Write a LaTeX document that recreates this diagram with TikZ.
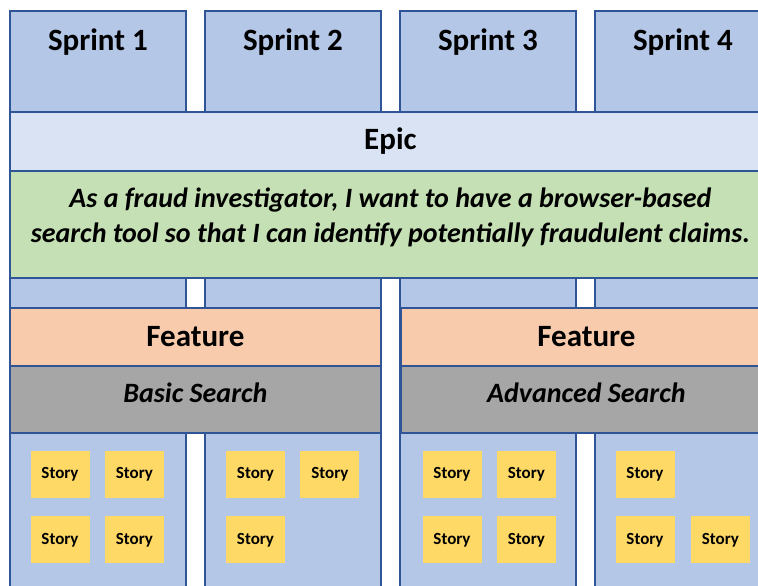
\documentclass[tikz,border=0pt]{standalone}
\usepackage{fontspec}
\setmainfont{Carlito}
\usetikzlibrary{positioning}

\definecolor{sprintblue}{HTML}{B4C7E7}
\definecolor{edgeblue}{HTML}{2F5597}
\definecolor{epicblue}{HTML}{DAE3F3}
\definecolor{storygreen}{HTML}{C5E0B4}
\definecolor{featorange}{HTML}{F8CBAD}
\definecolor{featgray}{HTML}{A6A6A6}
\definecolor{storyyellow}{HTML}{FFD966}

\begin{document}
\begin{tikzpicture}[
  x=1pt, y=-1pt,
  node distance=15pt and 15pt,
  lane/.style={rectangle, draw=edgeblue, line width=1.8pt, fill=sprintblue,
               anchor=north west, minimum width=176pt, minimum height=640pt,
               inner sep=0pt},
  band/.style={rectangle, draw=edgeblue, line width=1.8pt, anchor=north west,
               inner sep=0pt, align=center},
  head/.style={font=\fontsize{31}{36}\selectfont\bfseries},
  sub/.style={font=\fontsize{28}{32}\selectfont\bfseries\itshape},
  story/.style={rectangle, fill=storyyellow, minimum width=59pt,
                minimum height=47pt, inner sep=0pt,
                font=\fontsize{17}{19}\selectfont\bfseries}
]
\useasboundingbox (0,0) rectangle (758,586);
\clip (0,0) rectangle (758,586);

% Sprint columns
\node[lane] (s1) at (9,10)  {};
\node[lane] (s2) at (204,10) {};
\node[lane] (s3) at (399,10) {};
\node[lane] (s4) at (594,10) {};
\node[head] (s1title) at ([yshift=-32pt]s1.north) {Sprint 1};
\node[head] (s2title) at ([yshift=-32pt]s2.north) {Sprint 2};
\node[head] (s3title) at ([yshift=-32pt]s3.north) {Sprint 3};
\node[head] (s4title) at ([yshift=-32pt]s4.north) {Sprint 4};

% Epic across all sprints
\node[band, head, fill=epicblue, minimum width=761pt, minimum height=59pt]
  (epic) at (9,111) {Epic};
\node[band, fill=storygreen, minimum width=761pt, minimum height=107pt]
  (epicbox) at (9,170) {};
\node[align=center, font=\fontsize{28}{35}\selectfont\bfseries\itshape]
  (epictext) at ([yshift=7.5pt]epicbox.center)
  {As a fraud investigator, I want to have a browser-based\\
   search tool so that I can identify potentially fraudulent claims.};

% Features
\node[band, head, fill=featorange, minimum width=371pt, minimum height=58pt]
  (feat1) at (9,307) {Feature};
\node[band, fill=featgray, minimum width=371pt, minimum height=67pt]
  (feat1box) at (9,365) {};
\node[sub] (feat1name) at ([yshift=7pt]feat1box.center) {Basic Search};
\node[band, head, fill=featorange, minimum width=371pt, minimum height=58pt]
  (feat2) at (400,307) {Feature};
\node[band, fill=featgray, minimum width=371pt, minimum height=67pt]
  (feat2box) at (400,365) {};
\node[sub] (feat2name) at ([yshift=7pt]feat2box.center) {Advanced Search};

% Stories, sprint 1
\node[story] (st1a) at (60,474.5) {Story};
\node[story, right=of st1a] (st1b) {Story};
\node[story, below=18pt of st1a] (st1c) {Story};
\node[story, right=of st1c] (st1d) {Story};

% Stories, sprint 2
\node[story] (st2a) at (255.5,474.5) {Story};
\node[story, right=of st2a] (st2b) {Story};
\node[story, below=18pt of st2a] (st2c) {Story};

% Stories, sprint 3
\node[story] (st3a) at (452,474.5) {Story};
\node[story, right=of st3a] (st3b) {Story};
\node[story, below=18pt of st3a] (st3c) {Story};
\node[story, right=of st3c] (st3d) {Story};

% Stories, sprint 4
\node[story] (st4a) at (645,474.5) {Story};
\node[story, below=18pt of st4a] (st4c) {Story};
\node[story, right=16pt of st4c] (st4d) {Story};

\end{tikzpicture}
\end{document}
